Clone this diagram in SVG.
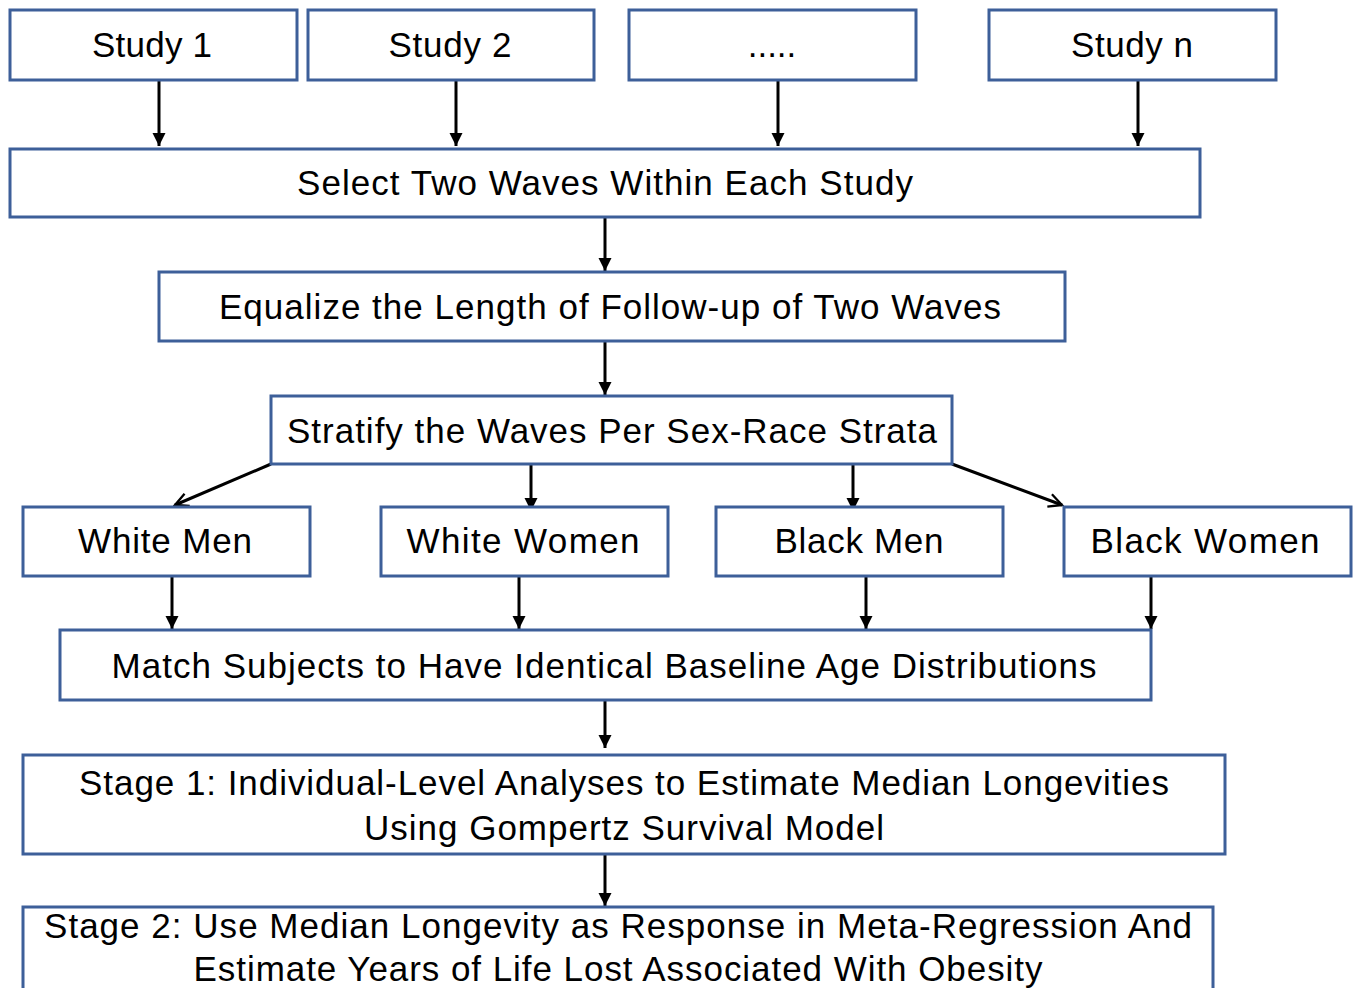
<svg xmlns="http://www.w3.org/2000/svg" width="1354" height="988" viewBox="0 0 1354 988">
<style>
.box{fill:#fff;stroke:#3d5f99;stroke-width:3}
.t{font-family:"Liberation Sans",Arial,sans-serif;font-size:35px;fill:#000;text-anchor:middle}
.c{stroke:#000;stroke-width:3;fill:none}
</style>
<defs>
<marker id="a" viewBox="0 0 10 10" refX="10" refY="5" markerWidth="4.5" markerHeight="4.5" orient="auto" markerUnits="strokeWidth"><path d="M0,0 L10,5 L0,10 z" fill="#000"/></marker>
<marker id="v" viewBox="0 0 10 10" refX="9" refY="5" markerWidth="5.5" markerHeight="5.5" orient="auto" markerUnits="strokeWidth"><path d="M1,1 L9,5 L1,9" fill="none" stroke="#000" stroke-width="1.4"/></marker>
</defs>
<rect width="1354" height="988" fill="#fff"/>
<g id="connectors">
<line class="c" x1="159" y1="80" x2="159" y2="146" marker-end="url(#a)"/>
<line class="c" x1="456" y1="80" x2="456" y2="146" marker-end="url(#a)"/>
<line class="c" x1="778" y1="80" x2="778" y2="146" marker-end="url(#a)"/>
<line class="c" x1="1138" y1="80" x2="1138" y2="146" marker-end="url(#a)"/>
<line class="c" x1="605" y1="217" x2="605" y2="271" marker-end="url(#a)"/>
<line class="c" x1="605" y1="341" x2="605" y2="395" marker-end="url(#a)"/>
<line class="c" x1="271" y1="464" x2="175" y2="505" marker-end="url(#v)"/>
<line class="c" x1="531" y1="464" x2="531" y2="511" marker-end="url(#a)"/>
<line class="c" x1="853" y1="464" x2="853" y2="511" marker-end="url(#a)"/>
<line class="c" x1="952" y1="464" x2="1062" y2="505" marker-end="url(#v)"/>
<line class="c" x1="172" y1="576" x2="172" y2="629" marker-end="url(#a)"/>
<line class="c" x1="519" y1="576" x2="519" y2="629" marker-end="url(#a)"/>
<line class="c" x1="866" y1="576" x2="866" y2="629" marker-end="url(#a)"/>
<line class="c" x1="1151" y1="576" x2="1151" y2="629" marker-end="url(#a)"/>
<line class="c" x1="605" y1="700" x2="605" y2="748" marker-end="url(#a)"/>
<line class="c" x1="605" y1="854" x2="605" y2="906" marker-end="url(#a)"/>
</g>
<g id="study1"><rect class="box" x="10" y="10" width="287" height="70"/><text class="t" x="152" y="57" textLength="120" lengthAdjust="spacing">Study 1</text></g>
<g id="study2"><rect class="box" x="308" y="10" width="286" height="70"/><text class="t" x="450" y="57" textLength="123" lengthAdjust="spacing">Study 2</text></g>
<g id="studydots"><rect class="box" x="629" y="10" width="287" height="70"/><text class="t" x="772" y="57">.....</text></g>
<g id="studyn"><rect class="box" x="989" y="10" width="287" height="70"/><text class="t" x="1132" y="57" textLength="122" lengthAdjust="spacing">Study n</text></g>
<g id="select"><rect class="box" x="10" y="149" width="1190" height="68"/><text class="t" x="605" y="195" textLength="616" lengthAdjust="spacing">Select Two Waves Within Each Study</text></g>
<g id="equalize"><rect class="box" x="159" y="272" width="906" height="69"/><text class="t" x="610" y="319" textLength="782" lengthAdjust="spacing">Equalize the Length of Follow-up of Two Waves</text></g>
<g id="stratify"><rect class="box" x="271" y="396" width="681" height="68"/><text class="t" x="612" y="443" textLength="650" lengthAdjust="spacing">Stratify the Waves Per Sex-Race Strata</text></g>
<g id="whitemen"><rect class="box" x="23" y="507" width="287" height="69"/><text class="t" x="165" y="553" textLength="174" lengthAdjust="spacing">White Men</text></g>
<g id="whitewomen"><rect class="box" x="381" y="507" width="287" height="69"/><text class="t" x="523" y="553" textLength="233" lengthAdjust="spacing">White Women</text></g>
<g id="blackmen"><rect class="box" x="716" y="507" width="287" height="69"/><text class="t" x="859" y="553" textLength="169" lengthAdjust="spacing">Black Men</text></g>
<g id="blackwomen"><rect class="box" x="1064" y="507" width="287" height="69"/><text class="t" x="1205" y="553" textLength="229" lengthAdjust="spacing">Black Women</text></g>
<g id="match"><rect class="box" x="60" y="630" width="1091" height="70"/><text class="t" x="604" y="678" textLength="985" lengthAdjust="spacing">Match Subjects to Have Identical Baseline Age Distributions</text></g>
<g id="stage1"><rect class="box" x="23" y="755" width="1202" height="99"/><text class="t" x="624" y="795" textLength="1090" lengthAdjust="spacing">Stage 1: Individual-Level Analyses to Estimate Median Longevities</text><text class="t" x="624" y="840" textLength="520" lengthAdjust="spacing">Using Gompertz Survival Model</text></g>
<g id="stage2"><rect class="box" x="23" y="907" width="1190" height="90"/><text class="t" x="618" y="938" textLength="1148" lengthAdjust="spacing">Stage 2: Use Median Longevity as Response in Meta-Regression And</text><text class="t" x="618" y="981" textLength="849" lengthAdjust="spacing">Estimate Years of Life Lost Associated With Obesity</text></g>
</svg>
